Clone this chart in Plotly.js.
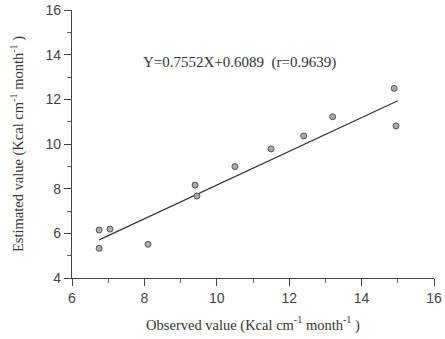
<!DOCTYPE html>
<html>
<head>
<meta charset="utf-8">
<script src="https://cdn.plot.ly/plotly-3.0.1.min.js"></script>
<style>html,body{margin:0;padding:0;background:#fff;}#chart{width:445px;height:339px;}</style>
</head>
<body>
<div id="chart"></div>
<script>
const observed = [6.75, 6.75, 7.05, 8.1, 9.4, 9.45, 10.5, 11.5, 12.4, 13.2, 14.9, 14.95];
const estimated = [6.15, 5.33, 6.19, 5.51, 8.16, 7.67, 8.99, 9.78, 10.36, 11.22, 12.49, 10.81];
const slope = 0.7552;
const intercept = 0.6089;
const fitRange = [6.75, 15.0];
const equationText = "Y=0.7552X+0.6089  (r=0.9639)";
const xTicks = [6, 8, 10, 12, 14, 16];
const yTicks = [4, 6, 8, 10, 12, 14, 16];

const fitX = fitRange;
const fitY = fitRange.map(x => slope * x + intercept);

const traces = [
  {x: fitX, y: fitY, mode: 'lines', type: 'scatter',
   line: {color: '#333', width: 1.2}, hoverinfo: 'skip', showlegend: false},
  {x: observed, y: estimated, mode: 'markers', type: 'scatter',
   marker: {size: 6, color: '#aaa', line: {color: '#555', width: 1}}, showlegend: false}
];

const serif = 'Liberation Serif, Times New Roman, serif';
const layout = {
  width: 445, height: 339,
  margin: {l: 72, r: 11, t: 10, b: 61},
  paper_bgcolor: '#fff', plot_bgcolor: '#fff',
  showlegend: false,
  font: {family: 'Liberation Sans, Arial, sans-serif', color: '#444', size: 13},
  xaxis: {
    range: [6, 16], tickvals: xTicks, ticktext: xTicks.map(String),
    showgrid: false, zeroline: false, showline: true, linecolor: '#444', linewidth: 1.2,
    ticks: 'outside', ticklen: 7, tickwidth: 1, tickcolor: '#444',
    minor: {dtick: 1, ticks: 'outside', ticklen: 4, tickcolor: '#666', tickwidth: 1, showgrid: false},
    tickfont: {size: 14, color: '#444'},
    title: {text: 'Observed value (Kcal cm<sup>-1</sup> month<sup>-1</sup> )', standoff: 14,
            font: {family: serif, size: 14.5, color: '#333'}}
  },
  yaxis: {
    range: [4, 16], tickvals: yTicks, ticktext: yTicks.map(String),
    showgrid: false, zeroline: false, showline: true, linecolor: '#444', linewidth: 1.2,
    ticks: 'outside', ticklen: 7, tickwidth: 1, tickcolor: '#444',
    minor: {dtick: 1, ticks: 'outside', ticklen: 4, tickcolor: '#666', tickwidth: 1, showgrid: false},
    tickfont: {size: 14, color: '#444'},
    title: {text: 'Estimated value (Kcal cm<sup>-1</sup> month<sup>-1</sup> )', standoff: 18,
            font: {family: serif, size: 14.5, color: '#333'}}
  },
  annotations: [{
    x: 10.64, y: 13.67, xref: 'x', yref: 'y', text: equationText, showarrow: false,
    font: {family: serif, size: 15, color: '#333'}
  }]
};

Plotly.newPlot('chart', traces, layout, {displayModeBar: false, staticPlot: true});
</script>
</body>
</html>
